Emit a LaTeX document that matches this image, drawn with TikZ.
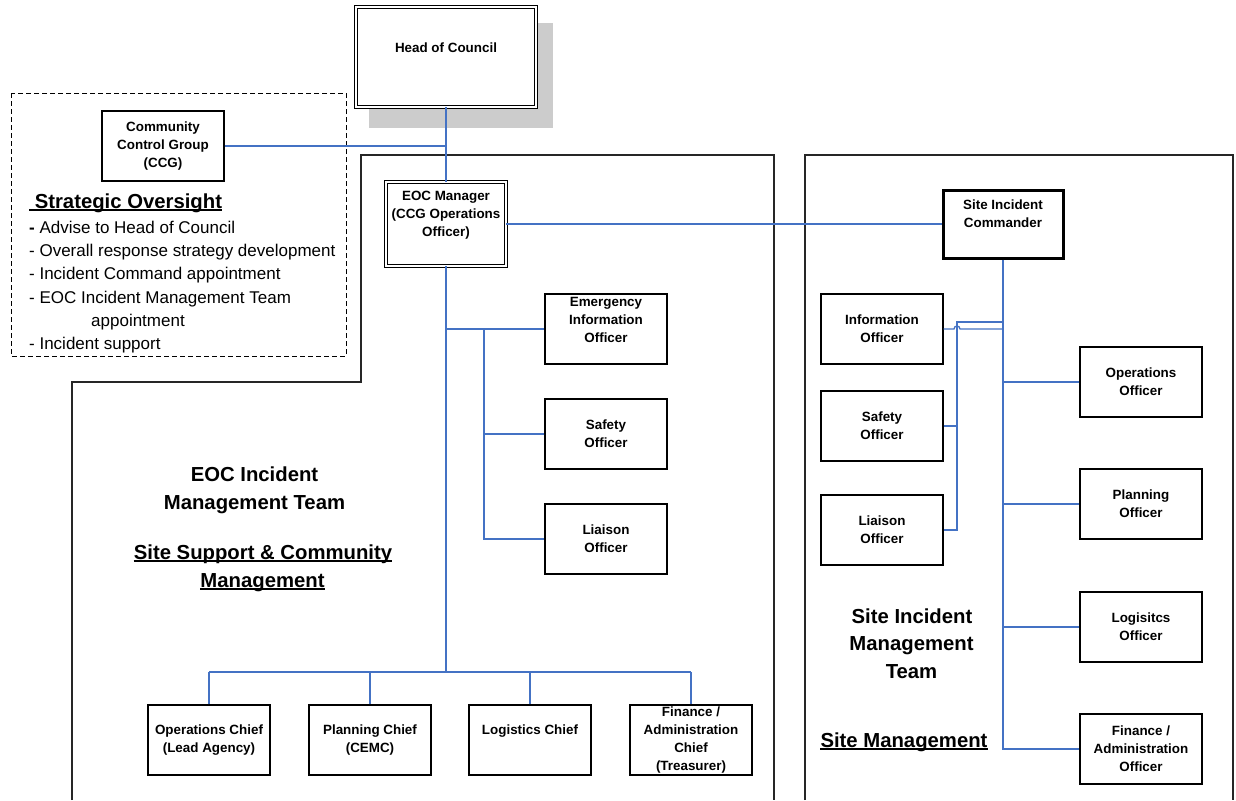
\documentclass[tikz,border=0pt]{standalone}
\usepackage{fontspec}
\setmainfont{Liberation Sans}
\definecolor{conn}{RGB}{68,114,196}
\definecolor{shadowgray}{RGB}{204,204,204}
\newcommand\boxfont{\fontsize{13.4}{18}\selectfont\bfseries}
\newcommand\bigfont{\fontsize{20.3}{28}\selectfont\bfseries}
\newcommand\listfont{\fontsize{17}{23}\selectfont}
\begin{document}
\begin{tikzpicture}[x=1pt,y=-1pt,
  box/.style={draw, line width=1.3pt, fill=white, minimum width=122pt, minimum height=70pt, inner sep=0pt, align=center, font=\boxfont},
  dbox/.style={draw, line width=0.9pt, double, double distance=1.6pt, fill=white, inner sep=0pt, align=center, font=\boxfont},
  txt/.style={inner sep=0pt, align=center, font=\boxfont},
  link/.style={draw=conn, line width=1.3pt},
  region/.style={draw=black!85, line width=1.2pt},
  big/.style={inner sep=0pt, anchor=base, font=\bigfont},
  uline/.style={line width=1.3pt},
  item/.style={inner sep=0pt, anchor=base west, font=\listfont}]

\useasboundingbox (0,0) rectangle (1236,800);
\fill[white] (0,0) rectangle (1236,800);

% regions
\draw[region] (72,800) -- (72,382) -- (361,382) -- (361,155) -- (774,155) -- (774,800);
\draw[region] (805,800) -- (805,155) -- (1233,155) -- (1233,800);
\draw[line width=1pt, dash pattern=on 5pt off 3pt] (11,93) rectangle (346,356);

% shadow of head
\fill[shadowgray] (369,23) rectangle (553,128);

% boxes
\node[dbox, minimum width=180pt, minimum height=100pt] (head) at (446,57) {};
\node[dbox, minimum width=120pt, minimum height=84pt] (eoc) at (446,224) {};
\node[box] (ccg) at (163,146) {Community\\Control Group\\(CCG)};
\node[box, line width=3pt, minimum width=120pt, minimum height=68pt] (sic) at (1003,224) {};

\node[box] (eio) at (606,329) {};
\node[box] (lsafety) at (606,434) {Safety\\Officer};
\node[box] (lliaison) at (606,539) {Liaison\\Officer};

\node[box] (opsc) at (209,740) {Operations Chief\\(Lead Agency)};
\node[box] (planc) at (370,740) {Planning Chief\\(CEMC)};
\node[box] (logc) at (530,740) {};
\node[box] (finc) at (691,740) {Finance /\\Administration\\Chief\\(Treasurer)};

\node[box] (info) at (882,329) {Information\\Officer};
\node[box] (rsafety) at (882,426) {Safety\\Officer};
\node[box] (rliaison) at (882,530) {Liaison\\Officer};

\node[box] (opso) at (1141,382) {Operations\\Officer};
\node[box] (plano) at (1141,504) {Planning\\Officer};
\node[box] (logo) at (1141,627) {Logisitcs\\Officer};
\node[box] (fino) at (1141,749) {Finance /\\Administration\\Officer};

% texts placed off-centre
\node[txt] (headt) at (446,48) {Head of Council};
\node[txt] (eoct) at (446,215) {EOC Manager\\(CCG Operations\\Officer)};
\node[txt] (sict) at (1003,214) {Site Incident\\Commander};
\node[txt] (eiot) at (606,320) {Emergency\\Information\\Officer};
\node[txt] (logct) at (530,731) {Logistics Chief};

% connectors - EOC side
\coordinate (ccgj) at (446,146);
\coordinate (busj) at (446,672);
\coordinate (eioj) at (446,329);
\coordinate (bl1) at (484,329);
\coordinate (bl2) at (484,539);
\coordinate (busl) at (209,672);
\coordinate (busr) at (691,672);
\draw[link] (head.south) -- (eoc.north);
\draw[link] (ccg.east) -- (ccgj);
\draw[link] (eoc.east) -- (sic.west);
\draw[link] (eoc.south) -- (busj);
\draw[link] (eioj) -- (eio.west);
\draw[link] (bl1) -- (bl2) -- (lliaison.west);
\draw[link] (lsafety.west) -- (lsafety.west -| bl1);
\draw[link] (busl) -- (busr);
\draw[link] (opsc.north) -- (opsc.north |- busl);
\draw[link] (planc.north) -- (planc.north |- busl);
\draw[link] (logc.north) -- (logc.north |- busl);
\draw[link] (finc.north) -- (finc.north |- busl);

% connectors - site side
\coordinate (sicend) at (1003,749);
\coordinate (hop) at (957,329);
\coordinate (br1) at (1003,322);
\coordinate (br2) at (957,322);
\coordinate (br3) at (957,530);
\draw[link] (sic.south) -- (sicend) -- (fino.west);
\draw[link] (opso.west) -- (opso.west -| sic.south);
\draw[link] (plano.west) -- (plano.west -| sic.south);
\draw[link] (logo.west) -- (logo.west -| sic.south);
\draw[link] (info.east) -- ([xshift=-3pt]hop) arc[start angle=180, end angle=0, radius=3pt] -- (info.east -| sic.south);
\draw[link] (br1) -- (br2) -- (br3) -- (rliaison.east);
\draw[link] (rsafety.east) -- (rsafety.east -| br2);

% strategic oversight text
\node[inner sep=0pt, anchor=base west, font=\bigfont] (so) at (29,208) {\hspace*{5.6pt}Strategic Oversight};
\draw[uline] ([yshift=-2pt]so.base west) -- ([yshift=-2pt]so.base east);
\node[item] (l1) at (29,233) {\textbf{-} Advise to Head of Council};
\node[item] (l2) at (29,256) {- Overall response strategy development};
\node[item] (l3) at (29,279.5) {- Incident Command appointment};
\node[item] (l4) at (29,303) {- EOC Incident Management Team};
\node[item] (l5) at (91,326) {appointment};
\node[item] (l6) at (29,349) {- Incident support};

% headings
\node[big] (h1) at (254.5,481) {EOC Incident};
\node[big] (h2) at (254.5,509) {Management Team};
\node[big] (h3) at (263,559) {Site Support \& Community};
\node[big] (h4) at (262.5,587) {Management};
\draw[uline] ([yshift=-2pt]h3.base west) -- ([yshift=-2pt]h3.base east);
\draw[uline] ([yshift=-2pt]h4.base west) -- ([yshift=-2pt]h4.base east);
\node[big] (h5) at (912,623) {Site Incident};
\node[big] (h6) at (911.5,650) {Management};
\node[big] (h7) at (911.5,678) {Team};
\node[big] (h8) at (904,747) {Site Management};
\draw[uline] ([yshift=-2pt]h8.base west) -- ([yshift=-2pt]h8.base east);
\end{tikzpicture}
\end{document}
